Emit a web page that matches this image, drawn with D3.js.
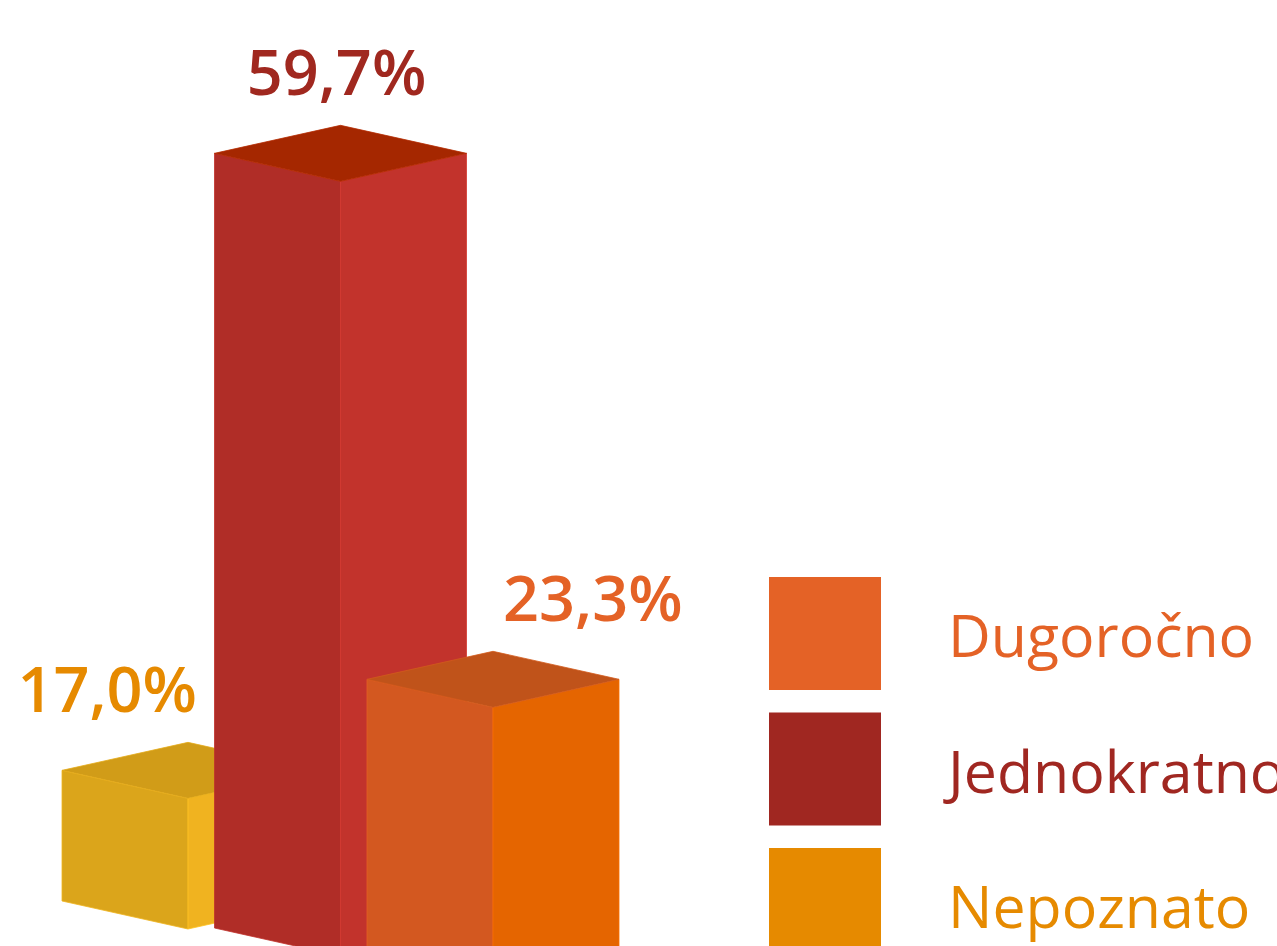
<!DOCTYPE html>
<html lang="en">
<head>
  <meta charset="utf-8">
  <title>3D bars</title>
  <script src="https://d3js.org/d3.v7.min.js"></script>
  <style type="text/css">
    body { margin: 0; background: #fff; }
    svg { display: block; font-family: "Open Sans", "Noto Sans", sans-serif; }
  </style>
</head>
<body>
  <script type="text/javascript">

const categories = ["Nepoznato", "Jednokratno", "Dugoročno"];
const values = [17.0, 59.7, 23.3];
const valueLabels = ["17,0%", "59,7%", "23,3%"];
const legendOrder = ["Dugoročno", "Jednokratno", "Nepoznato"];

// left face, right face, top face, label/legend
const colors = {
  "Nepoznato":   { left: "#dba51b", right: "#f0b320", top: "#d19c18", text: "#e68a00" },
  "Jednokratno": { left: "#b02d27", right: "#c2332c", top: "#a52700", text: "#a0281f" },
  "Dugoročno":   { left: "#d35820", right: "#e56500", top: "#c0531a", text: "#e46226" }
};

const svgWidth = 1277;
const svgHeight = 946;

const svg = d3.select("body")
    .append("svg")
    .attr("width", svgWidth)
    .attr("height", svgHeight);

const xScale = d3.scalePoint()
    .domain(categories)
    .range([188, 493]);

const yScale = d3.scaleLinear()
    .domain([0, 60])
    .range([1044, 177]);

const halfW = 126;   // width of each visible face
const up = 28;       // top face: back corner above side corners
const dn = 28;       // top face: front corner below side corners
const baseY = 929;   // front bottom corner of the first box
const depthStep = 27; // each box sits a bit further forward

const bars = categories.map((c, i) => ({
  cat: c,
  value: values[i],
  label: valueLabels[i],
  i: i
}));

const pts = arr => arr.map(p => p.join(",")).join(" ");

const g = svg.selectAll("g.bar")
    .data(bars)
    .enter()
    .append("g")
    .attr("class", "bar");

g.each(function(d) {
  const cx = xScale(d.cat);
  const yT = yScale(d.value);
  const yB = baseY + d.i * depthStep;
  const col = colors[d.cat];
  const sel = d3.select(this);

  sel.append("polygon")
      .attr("points", pts([[cx - halfW, yT - dn], [cx, yT], [cx, yB], [cx - halfW, yB - dn]]))
      .attr("fill", col.left)
      .attr("stroke", d3.color(col.left).brighter(0.25))
      .attr("stroke-width", 0.8);

  sel.append("polygon")
      .attr("points", pts([[cx, yT], [cx + halfW, yT - dn], [cx + halfW, yB - dn], [cx, yB]]))
      .attr("fill", col.right)
      .attr("stroke", d3.color(col.right).brighter(0.25))
      .attr("stroke-width", 0.8);

  sel.append("polygon")
      .attr("points", pts([[cx - halfW, yT - dn], [cx, yT - dn - up], [cx + halfW, yT - dn], [cx, yT]]))
      .attr("fill", col.top)
      .attr("stroke", d3.color(col.top).brighter(0.25))
      .attr("stroke-width", 0.8);

  // value label, nudged sideways so it clears the tall bar
  let anchor = "middle", lx = cx - 4;
  if (d.i === 0) { anchor = "end"; lx = cx + 9; }
  if (d.i === 2) { anchor = "start"; lx = cx + 10; }

  sel.append("text")
      .attr("x", lx)
      .attr("y", yT - 86)
      .attr("text-anchor", anchor)
      .style("font-size", "63px")
      .style("font-weight", 600)
      .style("fill", col.text)
      .text(d.label);
});

// legend
const legend = svg.selectAll("g.legend")
    .data(legendOrder)
    .enter()
    .append("g")
    .attr("class", "legend")
    .attr("transform", (d, i) => `translate(769, ${577 + i * 135.5})`);

legend.append("rect")
    .attr("width", 112)
    .attr("height", 113)
    .style("fill", d => d === "Dugoročno" ? "#e46226" : d === "Jednokratno" ? "#a02721" : "#e68a00");

legend.append("text")
    .attr("x", 179)
    .attr("y", 80)
    .style("font-size", "59px")
    .style("fill", d => d === "Dugoročno" ? "#e46226" : d === "Jednokratno" ? "#a02721" : "#e68a00")
    .text(d => d);

  </script>
</body>
</html>
